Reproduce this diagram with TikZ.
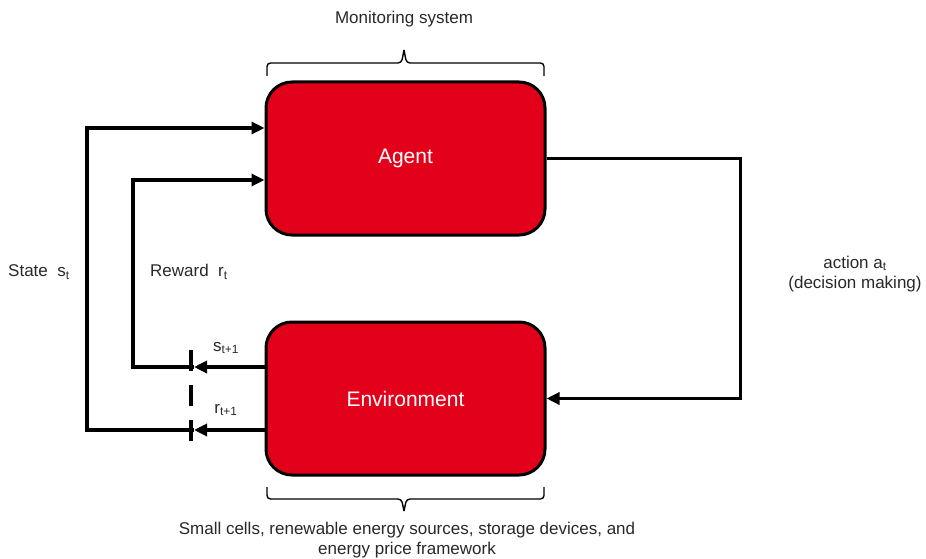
\documentclass[tikz,border=0pt]{standalone}
\usepackage{fontspec}
\setmainfont{Liberation Sans}
\usetikzlibrary{arrows.meta}
\definecolor{boxred}{RGB}{226,0,26}
\definecolor{txt}{RGB}{40,40,40}
\tikzset{
  block/.style={draw=black,line width=3pt,fill=boxred,rounded corners=26pt,minimum width=279pt,minimum height=153pt,text=white,font=\fontsize{21}{24}\selectfont},
  conn/.style={draw=black,line width=3.5pt},
  tip/.style={-{Triangle[length=13pt,width=12pt]}},
  lbl/.style={text=txt,font=\fontsize{17}{20}\selectfont,inner sep=0pt},
  bracestyle/.style={draw=black,line width=1.4pt,rounded corners=3.5pt}
}
\begin{document}
\begin{tikzpicture}[x=1pt,y=-1pt]
\useasboundingbox (0,0) rectangle (926,559);
\node[block] (agent) at (405.5,158.5) {Agent};
\node[block] (env) at (405.5,398.5) {Environment};
% braces
\draw[bracestyle] (267,76) -- (267,63) -- (401.5,63) -- (404,50);
\draw[bracestyle] (404,50) -- (406.5,63) -- (544,63) -- (544,76);
\draw[bracestyle] (267,487) -- (267,499) -- (401.5,499) -- (404,511);
\draw[bracestyle] (404,511) -- (406.5,499) -- (544,499) -- (544,487);
\node[lbl] (mon) at (404,19) {Monitoring system};
\node[lbl,align=center] (envdesc) at (407,540) {Small cells, renewable energy sources, storage devices, and\\energy price framework};
% action loop
\draw[conn,tip] (agent.east) -- ++(194,0) |- (env.east);
% state loop
\coordinate (sm) at (194,367);
\coordinate (rm) at (194,430);
\draw[conn,tip] ([yshift=31.5pt]env.west) -- (sm);
\draw[conn,tip] ([yshift=-31.5pt]env.west) -- (rm);
\draw[conn,tip] (sm) -- (133,367) |- ([yshift=-21.5pt]agent.west);
\draw[conn,tip] (rm) -- (87,430) |- ([yshift=30.5pt]agent.west);
% dashed separator
\draw[line width=3.5pt,dash pattern=on 21pt off 14pt] (191,350) -- (191,443);
% labels
\node[lbl,anchor=west] (state) at (8,272) {State~ s\textsubscript{t}};
\node[lbl,anchor=west] (reward) at (150,272) {Reward~ r\textsubscript{t}};
\node[lbl,align=center] (action) at (855,274) {action a\textsubscript{t}\\(decision making)};
\node[lbl] (snext) at (226,348) {s\textsubscript{t+1}};
\node[lbl] (rnext) at (226,410) {r\textsubscript{t+1}};
\end{tikzpicture}
\end{document}
